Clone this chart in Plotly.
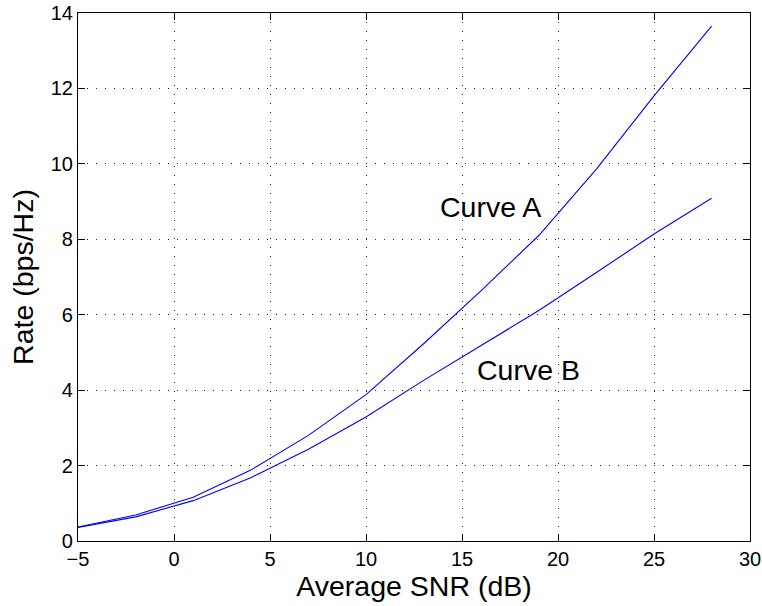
import plotly.graph_objects as go

snr_db = [-5, -2, 1, 4, 7, 10, 13, 16, 19, 22, 25, 28]
rate_a = [0.37, 0.69, 1.16, 1.88, 2.80, 3.88, 5.23, 6.64, 8.10, 9.86, 11.80, 13.65]
rate_b = [0.36, 0.64, 1.07, 1.68, 2.43, 3.29, 4.26, 5.19, 6.11, 7.12, 8.14, 9.09]

labels = ["Curve A", "Curve B"]
label_x = [16.5, 18.45]
label_y = [8.86, 4.54]

x_ticks = [-5, 0, 5, 10, 15, 20, 25, 30]
y_ticks = [0, 2, 4, 6, 8, 10, 12, 14]

FONT = "Liberation Sans, Arial, Helvetica"

fig = go.Figure()
for ys in (rate_a, rate_b):
    fig.add_trace(go.Scatter(x=snr_db, y=ys, mode="lines",
                             line=dict(color="#0000FF", width=1.1),
                             showlegend=False))

for t, lx, ly in zip(labels, label_x, label_y):
    fig.add_annotation(x=lx, y=ly, text=t, showarrow=False,
                       font=dict(size=28.5, color="black", family=FONT))

axis_common = dict(
    showline=True, linecolor="black", linewidth=1.2, mirror="ticks",
    ticks="inside", ticklen=7, tickcolor="black", tickwidth=1,
    showgrid=True, gridcolor="#222222", griddash="1px,8px", gridwidth=1,
    zeroline=False, automargin=False, ticklabeloverflow="allow",
    tickfont=dict(size=20, color="black", family=FONT),
)

fig.update_xaxes(range=[-5, 30], tickvals=x_ticks,
                 title=dict(text="Average SNR (dB)", standoff=0,
                            font=dict(size=28.5, color="black", family=FONT)),
                 **axis_common)
fig.update_yaxes(range=[0, 14], tickvals=y_ticks,
                 title=dict(text="Rate (bps/Hz)", standoff=8,
                            font=dict(size=28.5, color="black", family=FONT)),
                 **axis_common)

fig.update_layout(width=762, height=606,
                  margin=dict(l=78, r=12, t=13, b=65),
                  paper_bgcolor="white", plot_bgcolor="white")

# remove the page's default body margin so the figure fills the window
fig.write_html("out.html", config={"displayModeBar": False},
               post_script="document.body.style.margin='0';document.body.style.overflow='hidden';")
